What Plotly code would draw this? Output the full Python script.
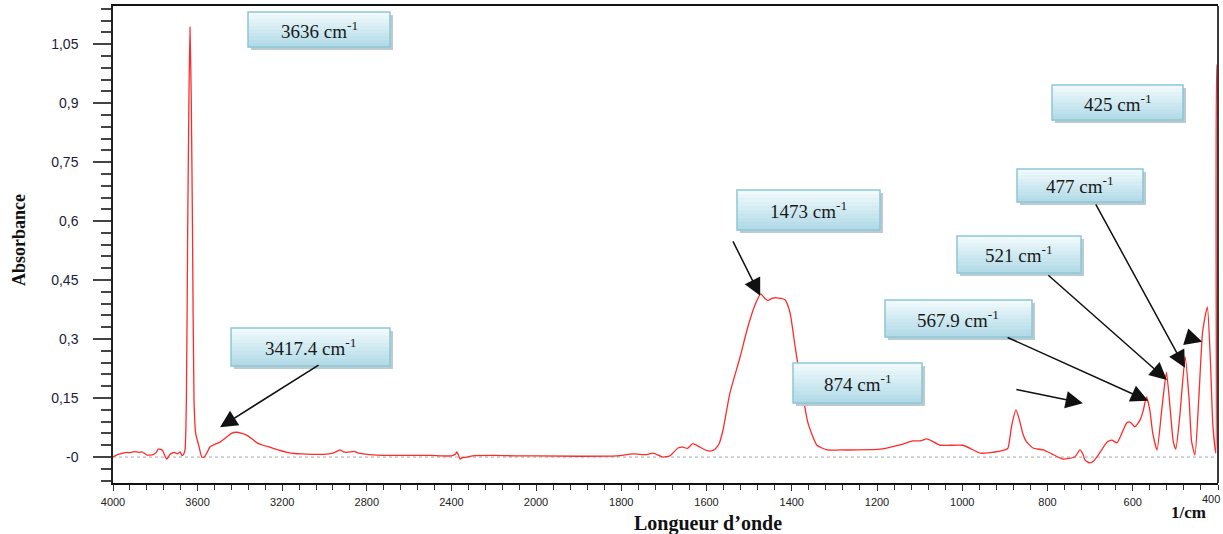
import plotly.graph_objects as go

# FTIR absorbance spectrum (wavenumber in cm-1, absorbance)
wavenumber = [
    4000, 3980, 3953, 3935, 3920, 3900, 3880, 3863, 3850, 3839, 3811, 3795, 3787,
    3770, 3764, 3752, 3745, 3732, 3721, 3710, 3697, 3683, 3674, 3665, 3659, 3653,
    3647, 3641, 3636, 3630, 3624, 3617, 3609, 3593, 3580, 3568, 3555, 3541, 3520,
    3494, 3460, 3440, 3417.4, 3395, 3366, 3340, 3319, 3290, 3258, 3220, 3177, 3140,
    3102, 3060, 3007, 2960, 2940, 2927, 2910, 2894, 2870, 2856, 2840, 2818, 2752,
    2629, 2500, 2400, 2380, 2374, 2366, 2359, 2350, 2326, 2300, 2200, 2100, 2000,
    1900, 1810, 1772, 1740, 1725, 1702, 1686, 1667, 1655, 1645, 1632, 1615, 1600,
    1592, 1580, 1570, 1561, 1545, 1521, 1505, 1486, 1473, 1463, 1456, 1445, 1435,
    1416, 1404, 1392, 1376, 1362, 1341, 1317, 1287, 1247, 1193, 1139, 1116, 1099,
    1083, 1070, 1052, 998, 958, 935, 900, 893, 884, 874, 866, 858, 850, 834, 810,
    790, 764, 736, 724, 716, 712, 700, 690, 681, 660, 649, 637, 614, 606, 595, 583,
    575, 567.9, 560, 553, 543, 532, 521, 512, 505, 499, 490, 477, 468, 462, 454,
    445, 436, 425, 418, 412, 405, 402, 400.5,
]
absorbance = [
    0.0, 0.006, 0.010, 0.012, 0.011, 0.014, 0.012, 0.013, 0.009, 0.005, 0.006, 0.012, 0.020,
    0.019, 0.015, 0.0, -0.005, 0.006, 0.010, 0.012, 0.008, 0.013, 0.004, 0.008, 0.020, 0.145,
    0.570, 0.910, 1.093, 0.910, 0.570, 0.145, 0.060, 0.026, 0.0, 0.0, 0.012, 0.026, 0.032,
    0.038, 0.052, 0.060, 0.063, 0.061, 0.055, 0.045, 0.036, 0.030, 0.025, 0.018, 0.012, 0.009,
    0.008, 0.007, 0.007, 0.010, 0.015, 0.018, 0.013, 0.012, 0.014, 0.014, 0.010, 0.008, 0.005,
    0.004, 0.004, 0.003, 0.008, 0.013, 0.004, -0.005, -0.002, 0.0, 0.003, 0.004, 0.003, 0.003,
    0.002, 0.003, 0.008, 0.006, 0.010, 0.0, 0.003, 0.023, 0.025, 0.022, 0.034, 0.025, 0.017,
    0.015, 0.020, 0.035, 0.070, 0.163, 0.255, 0.323, 0.387, 0.415, 0.403, 0.398, 0.404, 0.405,
    0.400, 0.367, 0.280, 0.170, 0.087, 0.030, 0.018, 0.018, 0.018, 0.020, 0.033, 0.041, 0.041,
    0.046, 0.040, 0.030, 0.030, 0.010, 0.011, 0.018, 0.022, 0.080, 0.120, 0.095, 0.060, 0.040, 0.023, 0.018,
    0.008, -0.005, 0.0, 0.018, 0.005, -0.008, -0.015, -0.008, 0.005, 0.038, 0.043, 0.036, 0.087, 0.089, 0.077, 0.094,
    0.120, 0.153, 0.120, 0.060, 0.018, 0.120, 0.216, 0.120, 0.040, 0.020, 0.100, 0.255, 0.150, 0.040, 0.005,
    0.150, 0.320, 0.382, 0.250, 0.080, 0.010, 0.998, 0.998,
]

# Labelled band positions (cm-1)
peaks = [3636, 3417.4, 1473, 874, 567.9, 521, 477, 425]

# Axis ticks
y_ticks = [0, 0.15, 0.3, 0.45, 0.6, 0.75, 0.9, 1.05]
y_ticktext = ["-0", "0,15", "0,3", "0,45", "0,6", "0,75", "0,9", "1,05"]
x_ticks_high = [4000, 3600, 3200, 2800, 2400, 2000]
x_ticks_low = [1800, 1600, 1400, 1200, 1000, 800, 600, 400]

# ---- layout geometry (pixels) ----
W, H = 1223, 534
L, R, T, B = 113, 5, 6, 51
PW, PH = W - L - R, H - T - B
SPLIT = 423 / PW  # axis scale doubles below 2000 cm-1


def px(x):
    return (x - L) / PW


def py(y):
    return (H - B - y) / PH


RED = "#ff2b2b"
SERIF = "Liberation Serif, Times New Roman, serif"
SANS = "Liberation Sans, Arial, sans-serif"
TICKFONT = dict(family=SANS, size=11, color="#222222")

high = [(w, a) for w, a in zip(wavenumber, absorbance) if w >= 2000]
low = [(w, a) for w, a in zip(wavenumber, absorbance) if w <= 2000]

fig = go.Figure()
line = dict(color=RED, width=1.3, shape="spline", smoothing=0.5)
fig.add_trace(go.Scatter(x=[p[0] for p in high], y=[p[1] for p in high],
                         mode="lines", line=line, xaxis="x", yaxis="y",
                         showlegend=False, hoverinfo="skip"))
fig.add_trace(go.Scatter(x=[p[0] for p in low], y=[p[1] for p in low],
                         mode="lines", line=line, xaxis="x2", yaxis="y",
                         showlegend=False, hoverinfo="skip"))

shapes = []
annotations = []

# dotted baseline at zero absorbance
shapes.append(dict(type="line", xref="paper", yref="y", x0=0, x1=1, y0=0, y1=0,
                   line=dict(color="#a8a8a8", width=1, dash="dot"), layer="below"))
# right frame edge
shapes.append(dict(type="line", xref="paper", yref="paper", x0=1, x1=1, y0=0, y1=1,
                   line=dict(color="#3a3a3a", width=2)))

# label boxes (x0, x1, y0, y1 in pixels)
boxes = [
    (248, 390, 12, 47),
    (231, 390, 328, 366),
    (737, 880, 190, 230),
    (793, 922, 363, 403),
    (885, 1032, 300, 337),
    (957, 1081, 236, 273),
    (1017, 1143, 169, 202),
    (1052, 1183, 85, 120),
]
top_rgb = (240, 249, 252)
bot_rgb = (178, 219, 231)
STRIPS = 10
for (x0, x1, y0, y1), pk in zip(boxes, peaks):
    shapes.append(dict(type="rect", xref="paper", yref="paper",
                       x0=px(x0 + 3), x1=px(x1 + 3), y0=py(y1 + 3), y1=py(y0 + 3),
                       fillcolor="#bccbd0", line=dict(width=0), layer="above"))
    h = (y1 - y0) / STRIPS
    for i in range(STRIPS):
        t = i / (STRIPS - 1)
        c = tuple(round(a + (b - a) * t) for a, b in zip(top_rgb, bot_rgb))
        shapes.append(dict(type="rect", xref="paper", yref="paper",
                           x0=px(x0), x1=px(x1), y0=py(y0 + (i + 1) * h + 0.5),
                           y1=py(y0 + i * h),
                           fillcolor=f"rgb{c}", line=dict(width=0), layer="above"))
    shapes.append(dict(type="rect", xref="paper", yref="paper",
                       x0=px(x0), x1=px(x1), y0=py(y1), y1=py(y0),
                       fillcolor="rgba(0,0,0,0)", line=dict(color="#8dc6d6", width=1.5),
                       layer="above"))
    annotations.append(dict(xref="paper", yref="paper", x=px((x0 + x1) / 2),
                            y=py((y0 + y1) / 2), text=f"{pk:g} cm<sup>-1</sup>",
                            showarrow=False, xanchor="center", yanchor="middle",
                            font=dict(family=SERIF, size=19, color="#1a1a1a")))

# arrows: tip (wavenumber, absorbance, axis) and tail offset in pixels
arrows = [
    (3494, 0.076, "x", 100, -63),
    (1474, 0.410, "x2", -28, -56),
    (717, 0.137, "x2", -68, -14),
    (564, 0.143, "x2", -142, -64),
    (520, 0.196, "x2", -120, -106),
    (477.5, 0.227, "x2", -90, -165),
    (437, 0.293, "x2", -13, -4),
]
for xt, yt, xr, ax, ay in arrows:
    annotations.append(dict(x=xt, y=yt, xref=xr, yref="y", ax=ax, ay=ay, text="",
                            showarrow=True, arrowhead=2, arrowsize=2.3, arrowwidth=1.5,
                            arrowcolor="#111111", standoff=0))

# last tick label of the low-wavenumber axis, kept inside the page edge
annotations.append(dict(xref="paper", yref="paper", x=px(1222), y=py(491),
                        text=str(x_ticks_low[-1]), showarrow=False,
                        xanchor="right", yanchor="top", font=TICKFONT))

# axis titles
annotations.append(dict(xref="paper", yref="paper", x=px(19), y=py(240), text="Absorbance",
                        textangle=-90, showarrow=False, xanchor="center", yanchor="middle",
                        font=dict(family=SERIF, size=18, color="#111111", weight="bold")))
annotations.append(dict(xref="paper", yref="paper", x=px(708), y=py(523),
                        text="Longueur d\u2019onde", showarrow=False,
                        xanchor="center", yanchor="middle",
                        font=dict(family=SERIF, size=20, color="#111111", weight="bold")))
annotations.append(dict(xref="paper", yref="paper", x=px(1188), y=py(512), text="1/cm",
                        showarrow=False, xanchor="center", yanchor="middle",
                        font=dict(family=SERIF, size=17, color="#111111", weight="bold")))

xcommon = dict(anchor="y", showline=True, linecolor="#111111", linewidth=1.5, mirror=True,
               showgrid=False, zeroline=False, ticks="outside", ticklen=6, tickwidth=1,
               tickcolor="#333333", tickfont=TICKFONT,
               ticklabelstandoff=2, automargin=False)

fig.update_layout(
    width=W, height=H, autosize=False,
    margin=dict(l=L, r=R, t=T, b=B, autoexpand=False),
    paper_bgcolor="white", plot_bgcolor="white",
    xaxis=dict(domain=[0, SPLIT], range=[4000, 2000], tickmode="array",
               tickvals=x_ticks_high,
               minor=dict(tickvals=list(range(4000, 1999, -80)), ticks="outside",
                          ticklen=5, tickcolor="#333333"),
               **xcommon),
    xaxis2=dict(domain=[SPLIT, 1], range=[2000, 400], tickmode="array",
                tickvals=x_ticks_low,
                ticktext=[str(v) for v in x_ticks_low[:-1]] + [""],
                minor=dict(tickvals=list(range(2000, 399, -40)), ticks="outside",
                           ticklen=5, tickcolor="#333333"),
                **xcommon),
    yaxis=dict(domain=[0, 1], range=[-0.066, 1.147], anchor="x", tickmode="array",
               tickvals=y_ticks, ticktext=y_ticktext, ticks="outside", ticklen=18,
               tickwidth=1.5, tickcolor="#444444", showline=True, linecolor="#222222",
               linewidth=1.5, showgrid=False, zeroline=False, ticklabelstandoff=12,
               automargin=False,
               tickfont=dict(family=SANS, size=14, color="#1b1b3a"),
               minor=dict(dtick=0.03, tick0=0, ticks="outside", ticklen=10,
                          tickwidth=1.5, tickcolor="#444444")),
    shapes=shapes,
    annotations=annotations,
)

fig.write_html("out.html")
